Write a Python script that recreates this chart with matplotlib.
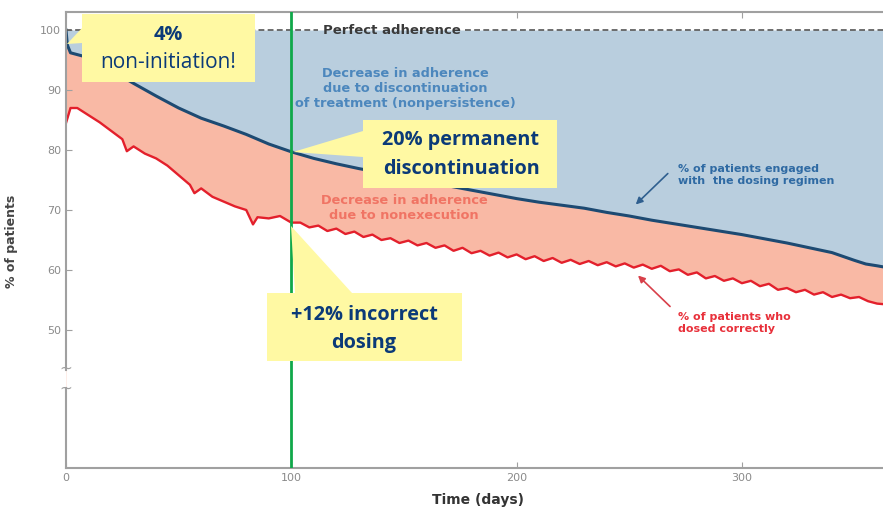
import numpy as np
import matplotlib
matplotlib.use('Agg')
import matplotlib.pyplot as plt
from matplotlib.patches import Polygon

# engaged with dosing regimen (blue line)
blue_days = [0, 0.6, 2, 10, 20, 30, 40, 50, 60, 70, 80, 90, 100, 110, 120, 130, 140, 150,
             160, 170, 180, 190, 200, 210, 220, 230, 240, 250, 260, 270, 280, 290, 300,
             310, 320, 330, 340, 350, 355, 360, 363]
blue_vals = [100, 97.5, 96.2, 95.4, 93.3, 91.1, 89.0, 87.0, 85.3, 84.0, 82.6, 81.0, 79.7,
             78.6, 77.7, 76.9, 76.2, 75.5, 74.8, 74.0, 73.3, 72.6, 71.9, 71.3, 70.8, 70.3,
             69.6, 69.0, 68.3, 67.7, 67.1, 66.5, 65.9, 65.2, 64.5, 63.7, 62.9, 61.6, 61.0,
             60.7, 60.5]

# dosed correctly (red line)
red_days = [0, 2, 5, 10, 15, 20, 25, 27, 30, 35, 40, 45, 50, 55, 57, 60, 65, 70, 75, 80, 83,
            85, 90, 95, 100, 104, 108, 112, 116, 120, 124, 128, 132, 136, 140, 144, 148, 152,
            156, 160, 164, 168, 172, 176, 180, 184, 188, 192, 196, 200, 204, 208, 212, 216,
            220, 224, 228, 232, 236, 240, 244, 248, 252, 256, 260, 264, 268, 272, 276, 280,
            284, 288, 292, 296, 300, 304, 308, 312, 316, 320, 324, 328, 332, 336, 340, 344,
            348, 352, 356, 360, 363]
red_vals = [84.5, 87.0, 87.0, 85.8, 84.6, 83.2, 81.8, 79.8, 80.6, 79.4, 78.6, 77.4, 75.8,
            74.2, 72.8, 73.6, 72.2, 71.4, 70.6, 70.0, 67.6, 68.8, 68.6, 69.0, 67.9, 67.9,
            67.1, 67.4, 66.5, 66.9, 66.0, 66.4, 65.5, 65.9, 65.0, 65.3, 64.5, 64.9, 64.1,
            64.5, 63.7, 64.1, 63.2, 63.7, 62.8, 63.2, 62.4, 62.9, 62.1, 62.6, 61.8, 62.3,
            61.5, 62.0, 61.2, 61.7, 61.0, 61.5, 60.8, 61.3, 60.6, 61.1, 60.4, 60.9, 60.2,
            60.7, 59.8, 60.1, 59.2, 59.6, 58.6, 59.0, 58.2, 58.6, 57.8, 58.2, 57.3, 57.7,
            56.7, 57.0, 56.3, 56.7, 55.9, 56.3, 55.5, 55.9, 55.3, 55.5, 54.8, 54.4, 54.3]

perfect = 100
marker_day = 100
y_ticks = [50, 60, 70, 80, 90, 100]
x_ticks = [0, 100, 200, 300]

W, H = 883, 512
fig = plt.figure(figsize=(W / 100, H / 100), dpi=100)
ax = fig.add_axes([66 / W, 1 - 468 / H, (W - 66) / W, (468 - 12) / H])
ymin, ymax = 27, 103
ax.set_xlim(0, (W - 66) / 2.253)
ax.set_ylim(ymin, ymax)

# filled regions
ax.fill_between(blue_days, perfect, blue_vals, color='#b9cede', lw=0)
ax.fill_between(blue_days, blue_vals, ymin, color='#f9b9a5', lw=0)
ax.fill_between(red_days, red_vals, ymin, color='white', lw=0)

ax.plot(blue_days, blue_vals, color='#1d4a72', lw=2.2)
ax.plot(red_days, red_vals, color='#e3202c', lw=1.7)

ax.axhline(perfect, xmax=112 / 362.6, color='#555555', lw=1.2, ls=(0, (3.5, 2)))
ax.axhline(perfect, xmin=177 / 362.6, color='#555555', lw=1.2, ls=(0, (3.5, 2)))
ax.text(144.5, perfect, 'Perfect adherence', ha='center', va='center', fontsize=9.5,
        fontweight='bold', color='#3a3a3a')

ax.axvline(marker_day, color='#10a84a', lw=2, zorder=5)

# texts inside the chart
ax.text(150.5, 90.2, 'Decrease in adherence\ndue to discontinuation\nof treatment (nonpersistence)',
        ha='center', va='center', fontsize=9.3, fontweight='bold', color='#4c87bd',
        linespacing=1.2)
ax.text(150, 70.3, 'Decrease in adherence\ndue to nonexecution', ha='center', va='center',
        fontsize=9.3, fontweight='bold', color='#f07464', linespacing=1.2)
ax.text(271.5, 75.8, '% of patients engaged\nwith  the dosing regimen', ha='left', va='center',
        fontsize=8, fontweight='bold', color='#2f6aa3', linespacing=1.3)
ax.annotate('', xy=(252, 70.6), xytext=(268, 76.4),
            arrowprops=dict(arrowstyle='-|>', color='#2f5f8f', lw=1.2))
ax.text(271.5, 51.2, '% of patients who\ndosed correctly', ha='left', va='center',
        fontsize=8, fontweight='bold', color='#e8303a', linespacing=1.3)
ax.annotate('', xy=(253, 59.4), xytext=(269, 53.6),
            arrowprops=dict(arrowstyle='-|>', color='#d8404a', lw=1.2))

# axes styling
ax.spines['right'].set_visible(False)
ax.spines['left'].set_visible(False)
for s in ['top', 'bottom']:
    ax.spines[s].set_color('#a0a0a0')
    ax.spines[s].set_linewidth(1.5)
ax.plot([0, 0], [43.4, ymax], color='#a0a0a0', lw=1.5, clip_on=False, zorder=6)
ax.plot([0, 0], [ymin, 40.4], color='#a0a0a0', lw=1.5, clip_on=False, zorder=6)
for yb in [43.7, 40.3]:
    ax.text(0, yb, '~', ha='center', va='center', fontsize=11, color='#a0a0a0')

ax.set_yticks(y_ticks)
ax.set_xticks(x_ticks)
ax.tick_params(direction='in', colors='#a0a0a0', labelcolor='#8a8a8a', labelsize=8,
               length=4, top=True)
ax.set_xlabel('Time (days)', fontsize=10, fontweight='bold', color='#333333')
ax.xaxis.set_label_coords((478 - 66) / (W - 66), -0.054)
ax.set_ylabel('% of patients', fontsize=9, fontweight='bold', color='#444444')
ax.yaxis.set_label_coords(-0.059, 0.496)


def px(x, y):
    return (x / W, 1 - y / H)


box_face = '#fff9a3'
navy = '#0b3a78'
callouts = [
    [(82, 14), (255, 14), (255, 82), (82, 82), (82, 43), (67, 44), (82, 28)],
    [(363, 120), (557, 120), (557, 188), (363, 188), (363, 157), (293, 152), (363, 131)],
    [(267, 293), (295, 293), (291, 226), (352, 293), (462, 293), (462, 361), (267, 361)],
]
for pts in callouts:
    fig.add_artist(Polygon([px(*p) for p in pts], closed=True, facecolor=box_face,
                           edgecolor='none', transform=fig.transFigure, zorder=10))

fig.text(*px(168, 35), '4%', ha='center', va='center', fontsize=14.3, fontweight='bold',
         color=navy, family='Open Sans', zorder=11)
fig.text(*px(168, 63), 'non-initiation!', ha='center', va='center', fontsize=15,
         color=navy, family='Open Sans', zorder=11)
fig.text(*px(461, 155), '20% permanent\ndiscontinuation', ha='center', va='center',
         fontsize=14.3, fontweight='bold', color=navy, family='Open Sans', zorder=11,
         linespacing=1.6)
fig.text(*px(364, 329), '+12% incorrect\ndosing', ha='center', va='center',
         fontsize=14.3, fontweight='bold', color=navy, family='Open Sans', zorder=11,
         linespacing=1.55)

fig.savefig('out.png', dpi=100)
